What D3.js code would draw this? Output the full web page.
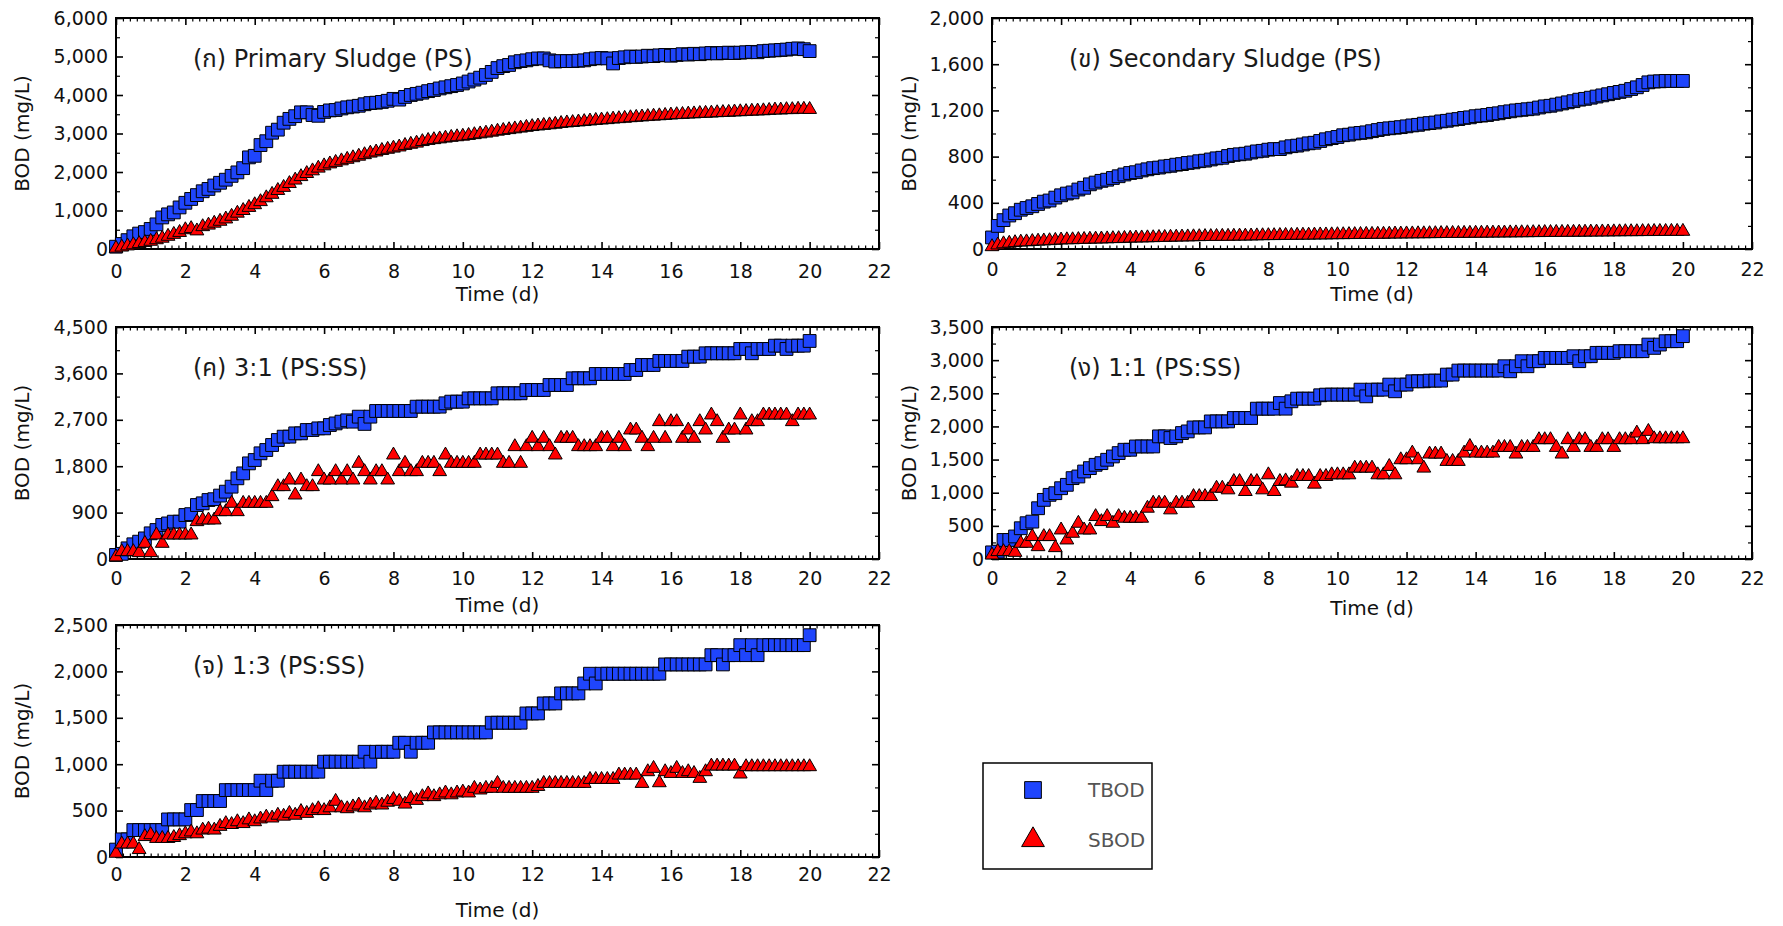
<!DOCTYPE html>
<html><head><meta charset="utf-8">
<script src="https://cdn.jsdelivr.net/npm/d3@7"></script>
<style>
html,body{margin:0;padding:0;background:#fff;}
svg{display:block;}
text{font-family:"DejaVu Sans","Noto Sans","Noto Sans Thai",Tahoma,sans-serif;}
</style></head>
<body><svg id="chart" width="1783" height="926"></svg>
<script>
// ---- sampling times (hours) ----
const hours = [0,4,8,12,16,20,24,28,32,36,40,44,48,52,56,60,64,68,72,76,80,84,88,92,96,100,104,108,112,116,120,124,128,132,136,140,144,148,152,156,160,164,168,172,176,180,184,188,192,196,200,204,208,212,216,220,224,228,232,236,240,244,248,252,256,260,264,268,272,276,280,284,288,292,296,300,304,308,312,316,320,324,328,332,336,340,344,348,352,356,360,364,368,372,376,380,384,388,392,396,400,404,408,412,416,420,424,428,432,436,440,444,448,452,456,460,464,468,472,476,480];

// ---- tick labels ----
const xTicks = [0,2,4,6,8,10,12,14,16,18,20,22];
const yTicksPS = [0,1000,2000,3000,4000,5000,6000];
const yTicksSS = [0,400,800,1200,1600,2000];
const yTicks31 = [0,900,1800,2700,3600,4500];
const yTicks11 = [0,500,1000,1500,2000,2500,3000,3500];
const yTicks13 = [0,500,1000,1500,2000,2500];

const panelTitles = ["(ก) Primary Sludge (PS)","(ข) Secondary Sludge (PS)","(ค) 3:1 (PS:SS)","(ง) 1:1 (PS:SS)","(จ) 1:3 (PS:SS)"];
const seriesNames = ["TBOD","SBOD"];
const xTitle = "Time (d)";
const yTitle = "BOD (mg/L)";

// ---- BOD values (mg/L) ----
const tbodPS = [60,130,230,330,400,440,520,640,820,900,
950,1080,1200,1300,1400,1500,1560,1650,1720,1800,
1900,1990,2100,2380,2420,2700,2800,3020,3100,3280,
3380,3450,3550,3550,3480,3460,3560,3600,3610,3650,
3680,3700,3720,3760,3790,3800,3820,3850,3900,3880,
3950,4000,4030,4060,4100,4130,4170,4200,4230,4260,
4300,4350,4400,4450,4520,4600,4700,4750,4780,4850,
4880,4900,4930,4950,4950,4900,4870,4880,4880,4880,
4890,4900,4930,4950,4960,4950,4820,4960,4980,5000,
4990,5000,5020,5010,5030,5040,5020,5040,5060,5050,
5070,5060,5080,5090,5080,5090,5100,5090,5100,5110,
5120,5110,5140,5150,5160,5170,5180,5200,5210,5190,
5140];
const sbodPS = [20,50,80,110,140,170,200,240,280,330,
380,430,500,530,470,580,620,670,720,780,
850,930,1000,1080,1150,1230,1330,1420,1520,1600,
1700,1790,1880,1960,2030,2100,2160,2210,2250,2290,
2330,2370,2410,2450,2490,2520,2560,2590,2620,2650,
2690,2720,2750,2790,2820,2840,2860,2880,2900,2915,
2930,2950,2970,2990,3010,3035,3060,3080,3100,3120,
3140,3160,3180,3195,3210,3225,3240,3260,3275,3285,
3300,3310,3325,3340,3350,3360,3375,3385,3395,3410,
3420,3430,3440,3450,3460,3470,3480,3490,3495,3505,
3510,3520,3525,3530,3540,3545,3550,3560,3565,3570,
3580,3585,3590,3600,3610,3610,3620,3620,3630,3630,
3625];
const tbodSS = [100,200,250,290,310,340,355,370,390,410,
420,445,465,480,490,515,530,560,575,590,
600,615,630,645,658,665,680,690,700,705,
715,720,730,735,745,750,760,765,775,785,
790,805,815,820,825,835,845,850,860,865,
865,880,890,895,905,915,920,935,950,960,
970,985,990,1000,1005,1010,1020,1030,1040,1045,
1050,1055,1062,1070,1075,1085,1090,1095,1105,1110,
1120,1125,1135,1140,1150,1155,1160,1170,1175,1185,
1192,1200,1205,1210,1215,1225,1235,1240,1250,1260,
1270,1280,1293,1300,1310,1320,1330,1340,1351,1360,
1370,1385,1400,1420,1443,1450,1452,1455,1455,1455,
1455];
const sbodSS = [20,35,45,50,55,60,62,65,68,70,
72,75,78,80,80,82,83,85,86,87,
88,90,90,92,94,95,96,97,98,100,
100,102,103,104,105,106,107,108,108,109,
110,110,111,112,112,113,114,115,116,116,
117,118,118,119,120,120,121,122,122,123,
124,124,125,125,126,127,127,128,128,129,
130,130,131,131,132,132,133,133,134,134,
135,135,136,136,137,137,138,138,139,139,
140,140,141,141,142,142,143,143,144,144,
145,145,146,146,147,147,148,148,149,149,
150,150,150,151,151,152,152,152,153,153,
153];
const tbod31 = [78,100,207,285,336,400,498,562,660,690,
724,724,853,870,1047,1080,1144,1160,1230,1306,
1403,1565,1661,1855,1920,2050,2114,2211,2308,2373,
2373,2437,2437,2502,2502,2534,2534,2599,2630,2664,
2690,2664,2761,2620,2761,2871,2871,2871,2871,2871,
2871,2871,2955,2955,2955,2955,2955,3020,3052,3052,
3052,3116,3116,3116,3116,3116,3214,3214,3214,3214,
3214,3278,3278,3278,3278,3375,3375,3375,3375,3505,
3505,3505,3505,3589,3589,3589,3589,3589,3589,3666,
3666,3763,3763,3763,3841,3841,3841,3841,3841,3925,
3925,3925,3990,3990,3990,3990,3990,3990,4074,4074,
3990,4074,4074,4074,4138,4138,4074,4138,4138,4138,
4229];
const sbod31 = [40,142,142,142,123,304,123,466,304,466,
466,466,466,466,724,757,757,757,918,918,
1080,918,1080,1080,1080,1080,1080,1209,1403,1403,
1532,1241,1532,1403,1403,1694,1532,1532,1694,1532,
1694,1532,1856,1694,1532,1694,1694,1532,2017,1694,
1856,1694,1694,1856,1856,1856,1694,2017,1856,1856,
1856,1856,1856,2017,2017,2017,2017,1856,1856,2179,
1856,2179,2341,2179,2341,2179,2017,2341,2341,2341,
2179,2179,2179,2179,2341,2341,2179,2341,2179,2502,
2502,2341,2179,2341,2664,2341,2664,2664,2341,2502,
2341,2664,2502,2793,2664,2341,2502,2502,2793,2502,
2664,2664,2793,2793,2793,2793,2793,2664,2793,2793,
2793];
const tbod11 = [100,111,287,287,340,464,540,564,766,892,
968,993,1068,1119,1220,1245,1320,1371,1421,1446,
1497,1547,1598,1648,1648,1698,1698,1698,1698,1850,
1850,1825,1850,1900,1925,1985,1985,1985,2076,2076,
2076,2076,2127,2127,2127,2127,2268,2268,2268,2268,
2353,2268,2379,2419,2419,2419,2419,2470,2480,2480,
2480,2480,2480,2480,2555,2454,2555,2555,2555,2631,
2530,2631,2631,2681,2681,2681,2691,2691,2691,2782,
2782,2843,2843,2843,2843,2843,2843,2843,2843,2908,
2832,2908,2984,2908,2984,2984,3034,3034,3034,3034,
3034,3059,2984,3059,3059,3110,3110,3110,3110,3135,
3135,3135,3135,3135,3235,3185,3235,3286,3286,3286,
3362];
const sbod11 = [60,111,111,111,100,237,237,338,186,338,
338,171,438,287,388,539,438,438,640,564,
640,539,640,615,615,615,615,766,842,842,
842,741,842,842,842,942,942,942,942,1068,
1068,1043,1169,1169,1018,1169,1169,1043,1270,1018,
1169,1179,1144,1245,1245,1245,1129,1245,1245,1270,
1270,1270,1270,1371,1371,1371,1371,1270,1270,1396,
1270,1497,1497,1598,1497,1371,1583,1583,1583,1472,
1472,1472,1598,1698,1598,1598,1598,1598,1683,1683,
1683,1583,1683,1683,1683,1800,1800,1800,1683,1583,
1800,1683,1800,1800,1683,1683,1800,1800,1683,1800,
1800,1800,1900,1800,1925,1814,1814,1814,1814,1814,
1814];
const tbod13 = [80,190,190,290,290,290,290,290,290,405,
405,405,405,506,506,603,603,603,603,721,
721,721,721,721,721,822,721,822,822,919,
919,919,919,919,919,919,1027,1027,1027,1027,
1027,1027,1027,1134,1027,1134,1134,1134,1134,1231,
1231,1134,1231,1231,1231,1343,1343,1343,1343,1343,
1343,1343,1343,1343,1343,1447,1447,1447,1447,1447,
1447,1547,1547,1547,1655,1655,1655,1763,1763,1763,
1763,1870,1975,1870,1975,1975,1975,1975,1975,1975,
1975,1975,1975,1975,1975,2075,2075,2075,2075,2075,
2075,2075,2075,2175,2175,2075,2175,2175,2283,2175,
2283,2175,2283,2283,2283,2283,2283,2283,2283,2283,
2390];
const sbod13 = [40,140,140,140,80,220,240,200,200,200,
210,230,250,270,250,290,300,290,330,360,
350,380,360,400,380,410,430,420,450,440,
470,450,490,470,500,520,500,530,600,530,
520,540,560,530,560,580,560,590,620,600,
570,630,610,650,680,650,670,690,670,690,
700,690,740,722,740,740,793,740,740,740,
740,740,740,760,793,793,793,793,793,793,
793,793,836,836,836,836,836,883,883,883,
883,793,919,955,800,919,900,955,900,919,
900,847,919,980,980,980,980,980,894,973,
973,973,973,973,973,973,973,973,973,973,
973];

// ---- layout (positions / styles only) ----
const layout = [
  {left:116, right:879, top:18, bottom:249, xPad:16, xTitleDy:52, yTitleX:29},
  {left:992, right:1752, top:18, bottom:249, xPad:14, xTitleDy:52, yTitleX:916},
  {left:116, right:879, top:327, bottom:559, xPad:12.5, xTitleDy:52.5, yTitleX:29},
  {left:992, right:1752, top:327, bottom:559, xPad:12.5, xTitleDy:55.5, yTitleX:916},
  {left:116, right:879, top:625, bottom:857, xPad:11, xTitleDy:60, yTitleX:29}
];
const panels = [
  {tbod:tbodPS, sbod:sbodPS, yTicks:yTicksPS},
  {tbod:tbodSS, sbod:sbodSS, yTicks:yTicksSS},
  {tbod:tbod31, sbod:sbod31, yTicks:yTicks31},
  {tbod:tbod11, sbod:sbod11, yTicks:yTicks11},
  {tbod:tbod13, sbod:sbod13, yTicks:yTicks13}
];
const BLUE = "#1f45fc", RED = "#ff0000";
const days = hours.map(h => h / 24);

const svg = d3.select("#chart");
const fmt = d3.format(",");
const sq = d3.symbol(d3.symbolSquare, 164);
const tri = d3.symbol(d3.symbolTriangle, 82);

function styleAxis(sel, width, labelSize) {
  sel.select(".domain").remove();
  sel.selectAll("line").attr("stroke", "#000").attr("stroke-width", width);
  sel.selectAll("text").attr("font-size", labelSize).attr("fill", "#111");
}

panels.forEach((p, k) => {
  const L = layout[k];
  const yMax = p.yTicks[p.yTicks.length - 1];
  const x = d3.scaleLinear().domain([xTicks[0], xTicks[xTicks.length - 1]]).range([L.left, L.right]);
  const y = d3.scaleLinear().domain([0, yMax]).range([L.bottom, L.top]);
  const g = svg.append("g");

  const xMinor = d3.range(0, 22.0001, 0.2).filter(v => Math.abs(v / 2 - Math.round(v / 2)) > 1e-6);
  const yStep = p.yTicks[1] - p.yTicks[0];
  const yMinor = p.yTicks.slice(0, -1).map(v => v + yStep / 2);

  // minor ticks
  g.append("g").attr("transform", `translate(0,${L.bottom})`)
    .call(d3.axisBottom(x).tickValues(xMinor).tickSize(-3.5).tickSizeOuter(0).tickFormat(""))
    .call(s => styleAxis(s, 1.2, 0));
  g.append("g").attr("transform", `translate(0,${L.top})`)
    .call(d3.axisTop(x).tickValues(xMinor).tickSize(-3.5).tickSizeOuter(0).tickFormat(""))
    .call(s => styleAxis(s, 1.2, 0));
  g.append("g").attr("transform", `translate(${L.left},0)`)
    .call(d3.axisLeft(y).tickValues(yMinor).tickSize(-4).tickSizeOuter(0).tickFormat(""))
    .call(s => styleAxis(s, 1.2, 0));
  g.append("g").attr("transform", `translate(${L.right},0)`)
    .call(d3.axisRight(y).tickValues(yMinor).tickSize(-4).tickSizeOuter(0).tickFormat(""))
    .call(s => styleAxis(s, 1.2, 0));

  // major ticks
  g.append("g").attr("transform", `translate(0,${L.bottom})`)
    .call(d3.axisBottom(x).tickValues(xTicks).tickSize(-7).tickSizeOuter(0).tickPadding(L.xPad).tickFormat(d3.format("d")))
    .call(s => styleAxis(s, 1.6, 19));
  g.append("g").attr("transform", `translate(0,${L.top})`)
    .call(d3.axisTop(x).tickValues(xTicks).tickSize(-7).tickSizeOuter(0).tickFormat(""))
    .call(s => styleAxis(s, 1.6, 0));
  g.append("g").attr("transform", `translate(${L.left},0)`)
    .call(d3.axisLeft(y).tickValues(p.yTicks).tickSize(-7).tickSizeOuter(0).tickPadding(8).tickFormat(fmt))
    .call(s => styleAxis(s, 1.6, 19));
  g.append("g").attr("transform", `translate(${L.right},0)`)
    .call(d3.axisRight(y).tickValues(p.yTicks).tickSize(-7).tickSizeOuter(0).tickFormat(""))
    .call(s => styleAxis(s, 1.6, 0));

  // frame
  g.append("rect").attr("x", L.left).attr("y", L.top)
    .attr("width", L.right - L.left).attr("height", L.bottom - L.top)
    .attr("fill", "none").attr("stroke", "#000").attr("stroke-width", 2);

  // axis titles
  g.append("text").attr("x", (L.left + L.right) / 2).attr("y", L.bottom + L.xTitleDy)
    .attr("text-anchor", "middle").attr("font-size", 20).attr("fill", "#111").text(xTitle);
  g.append("text").attr("transform", `translate(${L.yTitleX},${(L.top + L.bottom) / 2}) rotate(-90)`)
    .attr("text-anchor", "middle").attr("font-size", 20).attr("fill", "#111").text(yTitle);

  // panel title
  g.append("text").attr("x", L.left + 77).attr("y", L.top + 49)
    .attr("font-size", 24).attr("fill", "#1a1a1a").text(panelTitles[k]);

  // markers
  g.append("g").selectAll("path").data(p.tbod).join("path")
    .attr("transform", (d, i) => `translate(${x(days[i])},${y(d)})`)
    .attr("d", sq).attr("fill", BLUE).attr("stroke", "#000").attr("stroke-width", 1);
  g.append("g").selectAll("path").data(p.sbod).join("path")
    .attr("transform", (d, i) => `translate(${x(days[i])},${y(d)})`)
    .attr("d", tri).attr("fill", RED).attr("stroke", "#000").attr("stroke-width", 1);
});

// legend
const lg = svg.append("g");
lg.append("rect").attr("x", 983).attr("y", 763).attr("width", 169).attr("height", 106)
  .attr("fill", "#fff").attr("stroke", "#000").attr("stroke-width", 1.5);
lg.append("path").attr("transform", "translate(1033,790)")
  .attr("d", d3.symbol(d3.symbolSquare, 280)()).attr("fill", BLUE).attr("stroke", "#000").attr("stroke-width", 1);
lg.append("path").attr("transform", "translate(1033,840)")
  .attr("d", d3.symbol(d3.symbolTriangle, 225)()).attr("fill", RED).attr("stroke", "#000").attr("stroke-width", 1);
lg.selectAll("text.lab").data(seriesNames).join("text").attr("class", "lab")
  .attr("x", 1088).attr("y", (d, i) => 797 + i * 50)
  .attr("font-size", 20).attr("fill", "#555").text(d => d);
</script>
</body></html>
